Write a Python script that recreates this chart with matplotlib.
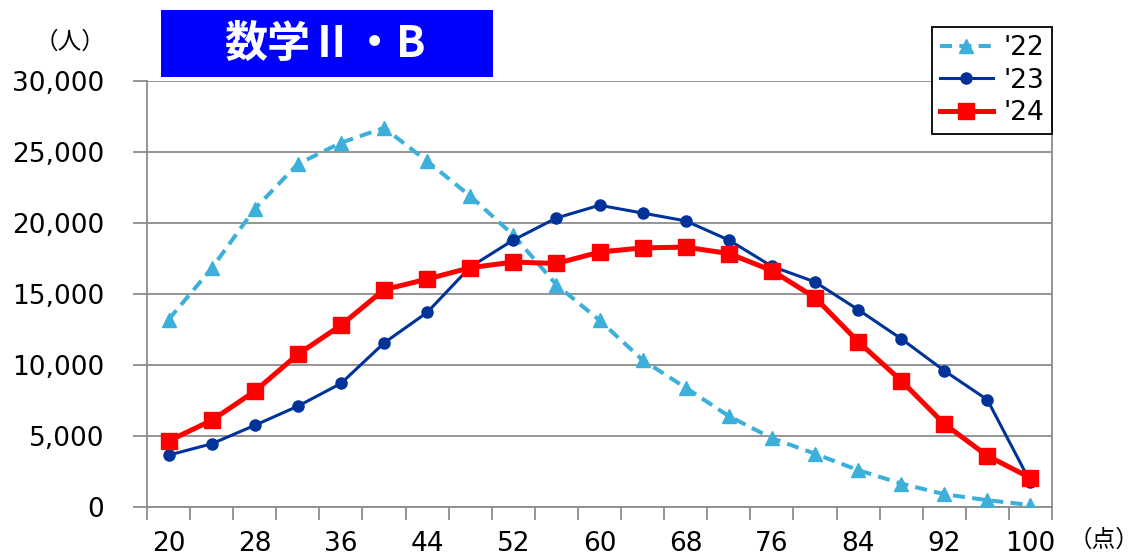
import numpy as np
import matplotlib
matplotlib.use('Agg')
import matplotlib.pyplot as plt
from matplotlib.patches import Rectangle

# scores (x categories) and counts per year
scores = [20, 24, 28, 32, 36, 40, 44, 48, 52, 56, 60, 64, 68, 72, 76, 80, 84, 88, 92, 96, 100]
y22 = [13200, 16800, 21000, 24150, 25650, 26700, 24350, 21900, 19150, 15650, 13150,
       10350, 8400, 6400, 4850, 3750, 2600, 1650, 900, 480, 140]
y23 = [3650, 4450, 5750, 7100, 8700, 11550, 13700, 16900, 18800, 20350, 21250,
       20700, 20150, 18800, 16950, 15850, 13900, 11850, 9600, 7550, 1750]
y24 = [4650, 6100, 8150, 10750, 12800, 15300, 16050, 16850, 17250, 17150, 17950,
       18250, 18300, 17850, 16650, 14750, 11650, 8900, 5850, 3600, 2050]
labels = ["'22", "'23", "'24"]
title = '数学Ⅱ・B'

jp = ['Noto Sans CJK JP', 'DejaVu Sans']
grey = '#8c8c8c'

fig = plt.figure(figsize=(11.4, 5.58), dpi=100)
ax = fig.add_axes([147/1140, 1-507/558, (1052-147)/1140, (507-81)/558])

xs = np.arange(len(scores))
ax.plot(xs, y22, color='#3cb0da', lw=2.9, ls=(0, (3, 1.8)), marker='^', ms=10,
        label=labels[0], zorder=3)
ax.plot(xs, y23, color='#003399', lw=2.2, marker='o', ms=8, label=labels[1], zorder=4)
ax.plot(xs, y24, color='#ff0000', lw=3.6, marker='s', ms=12, label=labels[2], zorder=5)

ax.set_xlim(-0.5, len(scores)-0.5)
ax.set_ylim(0, 30000)
ax.set_yticks(np.arange(0, 30001, 5000))
ax.set_yticklabels(['{:,}'.format(v) for v in range(0, 30001, 5000)], fontsize=19)
ax.yaxis.grid(True, color=grey, lw=1.3)
ax.set_axisbelow(True)

# category boundaries as ticks, labels every other score
ax.set_xticks(np.arange(-0.5, len(scores), 1))
ax.set_xticklabels([])
ax.set_xticks(xs[::2], minor=True)
ax.set_xticklabels([str(s) for s in scores[::2]], minor=True, fontsize=19)
ax.tick_params(axis='x', which='minor', length=0, pad=17)
ax.tick_params(axis='x', which='major', length=9, width=1.3, color=grey, direction='out')
ax.tick_params(axis='y', length=10, width=1.3, color=grey, pad=21)

for s in ['left', 'bottom', 'right']:
    ax.spines[s].set_color(grey)
    ax.spines[s].set_linewidth(1.3)
ax.spines['top'].set_visible(False)

leg = ax.legend(loc='upper left', bbox_to_anchor=(932/1140, 1-27/558),
                bbox_transform=fig.transFigure, fontsize=19, frameon=True,
                fancybox=False, edgecolor='black', framealpha=1,
                handlelength=2.0, handletextpad=0.4, borderpad=0.3, labelspacing=0.25,
                borderaxespad=0)
leg.get_frame().set_linewidth(1.3)
leg.set_zorder(10)

# title box
fig.patches.append(Rectangle((161/1140, 1-77/558), (493-161)/1140, (77-10)/558,
                             transform=fig.transFigure, facecolor='#0000ff',
                             edgecolor='none', zorder=5))
fig.text(325/1140, 1-44/558, title, color='white', fontsize=31, fontweight='bold',
         family=jp, ha='center', va='center', zorder=6)

fig.text(70/1140, 1-42/558, '（人）', fontsize=17, family=jp, ha='center', va='center')
fig.text(1139/1140, 1-540/558, '（点）', fontsize=17, family=jp, ha='right', va='center')

plt.savefig('out.png', dpi=100)
